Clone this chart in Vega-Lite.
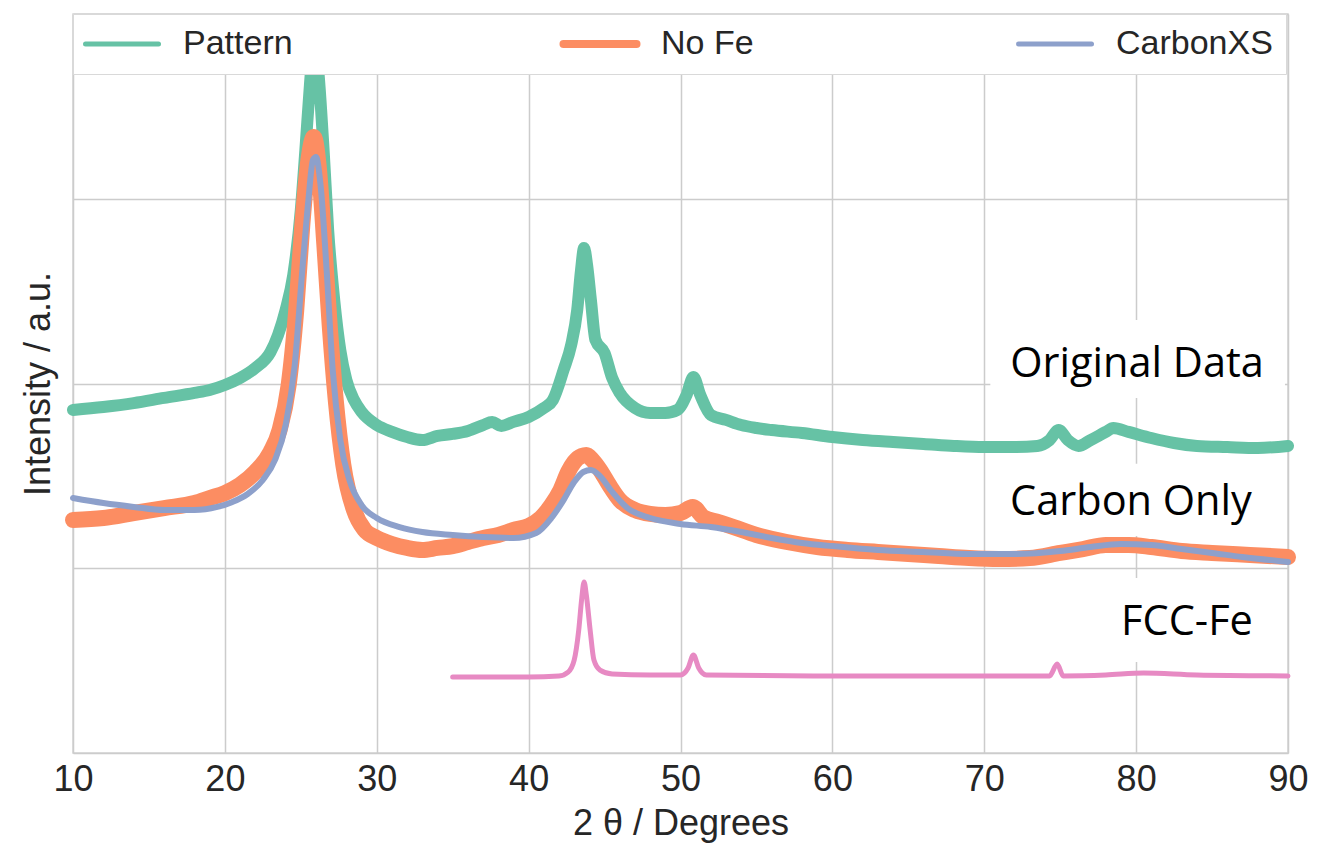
{
  "$schema": "https://vega.github.io/schema/vega-lite/v6.json",
  "width": 1215,
  "height": 739,
  "autosize": "none",
  "padding": {"left": 73, "top": 14, "right": 29, "bottom": 91},
  "background": "white",
  "config": {
    "font": "Liberation Sans",
    "view": {"stroke": "#d4d4d4", "strokeWidth": 1.5},
    "axis": {"gridColor": "#cccccc", "gridWidth": 1.5, "domain": false, "ticks": false, "labelColor": "#262626", "titleColor": "#262626", "titleFontWeight": "normal", "labelFontSize": 36, "titleFontSize": 36}
  },
  "datasets": {
    "curves": [
      {"s":"Pattern","x":10,"y":1.857},{"s":"Pattern","x":12,"y":1.873},{"s":"Pattern","x":14,"y":1.894},{"s":"Pattern","x":16,"y":1.922},{"s":"Pattern","x":18,"y":1.949},{"s":"Pattern","x":19,"y":1.965},{"s":"Pattern","x":20,"y":1.992},{"s":"Pattern","x":21,"y":2.030},{"s":"Pattern","x":22,"y":2.084},{"s":"Pattern","x":23,"y":2.170},{"s":"Pattern","x":23.5,"y":2.263},{"s":"Pattern","x":24,"y":2.398},{"s":"Pattern","x":24.5,"y":2.587},{"s":"Pattern","x":25,"y":2.939},{"s":"Pattern","x":25.3,"y":3.264},{"s":"Pattern","x":25.6,"y":3.616},{"s":"Pattern","x":25.9,"y":3.886},{"s":"Pattern","x":26.2,"y":3.643},{"s":"Pattern","x":26.5,"y":3.264},{"s":"Pattern","x":26.8,"y":2.831},{"s":"Pattern","x":27.2,"y":2.452},{"s":"Pattern","x":27.6,"y":2.181},{"s":"Pattern","x":28,"y":2.019},{"s":"Pattern","x":28.5,"y":1.911},{"s":"Pattern","x":29,"y":1.846},{"s":"Pattern","x":30,"y":1.775},{"s":"Pattern","x":31,"y":1.738},{"s":"Pattern","x":32,"y":1.710},{"s":"Pattern","x":33,"y":1.694},{"s":"Pattern","x":34,"y":1.716},{"s":"Pattern","x":35,"y":1.727},{"s":"Pattern","x":36,"y":1.743},{"s":"Pattern","x":37,"y":1.775},{"s":"Pattern","x":37.6,"y":1.792},{"s":"Pattern","x":38.2,"y":1.770},{"s":"Pattern","x":39,"y":1.792},{"s":"Pattern","x":40,"y":1.819},{"s":"Pattern","x":41,"y":1.867},{"s":"Pattern","x":41.6,"y":1.911},{"s":"Pattern","x":42.3,"y":2.073},{"s":"Pattern","x":42.8,"y":2.208},{"s":"Pattern","x":43.2,"y":2.398},{"s":"Pattern","x":43.45,"y":2.614},{"s":"Pattern","x":43.65,"y":2.733},{"s":"Pattern","x":43.85,"y":2.641},{"s":"Pattern","x":44.1,"y":2.452},{"s":"Pattern","x":44.4,"y":2.235},{"s":"Pattern","x":45,"y":2.165},{"s":"Pattern","x":45.5,"y":2.030},{"s":"Pattern","x":46,"y":1.949},{"s":"Pattern","x":47,"y":1.867},{"s":"Pattern","x":48,"y":1.840},{"s":"Pattern","x":49,"y":1.840},{"s":"Pattern","x":49.8,"y":1.857},{"s":"Pattern","x":50.4,"y":1.938},{"s":"Pattern","x":50.85,"y":2.035},{"s":"Pattern","x":51.3,"y":1.938},{"s":"Pattern","x":52,"y":1.830},{"s":"Pattern","x":53,"y":1.803},{"s":"Pattern","x":54,"y":1.775},{"s":"Pattern","x":55,"y":1.759},{"s":"Pattern","x":56,"y":1.748},{"s":"Pattern","x":58,"y":1.732},{"s":"Pattern","x":60,"y":1.710},{"s":"Pattern","x":62,"y":1.694},{"s":"Pattern","x":64,"y":1.683},{"s":"Pattern","x":66,"y":1.673},{"s":"Pattern","x":68,"y":1.662},{"s":"Pattern","x":70,"y":1.656},{"s":"Pattern","x":72,"y":1.656},{"s":"Pattern","x":73.5,"y":1.662},{"s":"Pattern","x":74.3,"y":1.694},{"s":"Pattern","x":74.9,"y":1.748},{"s":"Pattern","x":75.5,"y":1.694},{"s":"Pattern","x":76.2,"y":1.662},{"s":"Pattern","x":77,"y":1.694},{"s":"Pattern","x":78,"y":1.738},{"s":"Pattern","x":78.5,"y":1.759},{"s":"Pattern","x":79.5,"y":1.738},{"s":"Pattern","x":81,"y":1.705},{"s":"Pattern","x":82.5,"y":1.678},{"s":"Pattern","x":84,"y":1.662},{"s":"Pattern","x":86,"y":1.656},{"s":"Pattern","x":88,"y":1.651},{"s":"Pattern","x":90,"y":1.662},

      {"s":"No Fe","x":10,"y":1.261},{"s":"No Fe","x":12,"y":1.272},{"s":"No Fe","x":14,"y":1.299},{"s":"No Fe","x":16,"y":1.326},{"s":"No Fe","x":18,"y":1.353},{"s":"No Fe","x":19,"y":1.380},{"s":"No Fe","x":20,"y":1.407},{"s":"No Fe","x":21,"y":1.451},{"s":"No Fe","x":22,"y":1.521},{"s":"No Fe","x":23,"y":1.629},{"s":"No Fe","x":23.6,"y":1.748},{"s":"No Fe","x":24.2,"y":1.992},{"s":"No Fe","x":24.7,"y":2.398},{"s":"No Fe","x":25.1,"y":2.858},{"s":"No Fe","x":25.5,"y":3.210},{"s":"No Fe","x":25.85,"y":3.334},{"s":"No Fe","x":26.2,"y":3.156},{"s":"No Fe","x":26.55,"y":2.750},{"s":"No Fe","x":26.9,"y":2.317},{"s":"No Fe","x":27.3,"y":1.911},{"s":"No Fe","x":27.8,"y":1.559},{"s":"No Fe","x":28.5,"y":1.315},{"s":"No Fe","x":29.2,"y":1.207},{"s":"No Fe","x":30,"y":1.164},{"s":"No Fe","x":31,"y":1.131},{"s":"No Fe","x":32,"y":1.110},{"s":"No Fe","x":33,"y":1.099},{"s":"No Fe","x":34,"y":1.110},{"s":"No Fe","x":35,"y":1.120},{"s":"No Fe","x":36,"y":1.142},{"s":"No Fe","x":37,"y":1.164},{"s":"No Fe","x":38,"y":1.180},{"s":"No Fe","x":39,"y":1.207},{"s":"No Fe","x":40,"y":1.229},{"s":"No Fe","x":40.8,"y":1.272},{"s":"No Fe","x":41.5,"y":1.342},{"s":"No Fe","x":42.1,"y":1.424},{"s":"No Fe","x":42.6,"y":1.521},{"s":"No Fe","x":43,"y":1.575},{"s":"No Fe","x":43.5,"y":1.608},{"s":"No Fe","x":43.8,"y":1.613},{"s":"No Fe","x":44.2,"y":1.586},{"s":"No Fe","x":44.7,"y":1.532},{"s":"No Fe","x":45.3,"y":1.451},{"s":"No Fe","x":46,"y":1.369},{"s":"No Fe","x":47,"y":1.315},{"s":"No Fe","x":48,"y":1.294},{"s":"No Fe","x":49,"y":1.288},{"s":"No Fe","x":50,"y":1.299},{"s":"No Fe","x":50.8,"y":1.332},{"s":"No Fe","x":51.5,"y":1.277},{"s":"No Fe","x":52.5,"y":1.250},{"s":"No Fe","x":53.5,"y":1.223},{"s":"No Fe","x":55,"y":1.180},{"s":"No Fe","x":57,"y":1.142},{"s":"No Fe","x":59,"y":1.115},{"s":"No Fe","x":61,"y":1.099},{"s":"No Fe","x":63,"y":1.088},{"s":"No Fe","x":65,"y":1.077},{"s":"No Fe","x":67,"y":1.066},{"s":"No Fe","x":69,"y":1.055},{"s":"No Fe","x":71,"y":1.050},{"s":"No Fe","x":73,"y":1.055},{"s":"No Fe","x":75,"y":1.083},{"s":"No Fe","x":76.5,"y":1.104},{"s":"No Fe","x":78,"y":1.126},{"s":"No Fe","x":79.5,"y":1.126},{"s":"No Fe","x":81,"y":1.115},{"s":"No Fe","x":83,"y":1.093},{"s":"No Fe","x":85,"y":1.083},{"s":"No Fe","x":87.5,"y":1.072},{"s":"No Fe","x":90,"y":1.061},

      {"s":"CarbonXS","x":10,"y":1.380},{"s":"CarbonXS","x":12,"y":1.353},{"s":"CarbonXS","x":14,"y":1.332},{"s":"CarbonXS","x":16,"y":1.315},{"s":"CarbonXS","x":18,"y":1.315},{"s":"CarbonXS","x":19.5,"y":1.332},{"s":"CarbonXS","x":20.5,"y":1.359},{"s":"CarbonXS","x":21.5,"y":1.402},{"s":"CarbonXS","x":22.5,"y":1.478},{"s":"CarbonXS","x":23.3,"y":1.586},{"s":"CarbonXS","x":24,"y":1.775},{"s":"CarbonXS","x":24.6,"y":2.100},{"s":"CarbonXS","x":25.1,"y":2.614},{"s":"CarbonXS","x":25.5,"y":2.993},{"s":"CarbonXS","x":25.8,"y":3.210},{"s":"CarbonXS","x":26,"y":3.226},{"s":"CarbonXS","x":26.3,"y":3.074},{"s":"CarbonXS","x":26.7,"y":2.614},{"s":"CarbonXS","x":27.1,"y":2.073},{"s":"CarbonXS","x":27.6,"y":1.694},{"s":"CarbonXS","x":28.2,"y":1.478},{"s":"CarbonXS","x":29,"y":1.342},{"s":"CarbonXS","x":30,"y":1.272},{"s":"CarbonXS","x":31.5,"y":1.223},{"s":"CarbonXS","x":33,"y":1.196},{"s":"CarbonXS","x":35,"y":1.180},{"s":"CarbonXS","x":37,"y":1.169},{"s":"CarbonXS","x":39,"y":1.164},{"s":"CarbonXS","x":40.5,"y":1.191},{"s":"CarbonXS","x":41.5,"y":1.272},{"s":"CarbonXS","x":42.3,"y":1.369},{"s":"CarbonXS","x":43,"y":1.467},{"s":"CarbonXS","x":43.6,"y":1.521},{"s":"CarbonXS","x":44.1,"y":1.532},{"s":"CarbonXS","x":44.7,"y":1.499},{"s":"CarbonXS","x":45.5,"y":1.413},{"s":"CarbonXS","x":46.5,"y":1.326},{"s":"CarbonXS","x":48,"y":1.272},{"s":"CarbonXS","x":50,"y":1.240},{"s":"CarbonXS","x":52,"y":1.223},{"s":"CarbonXS","x":54,"y":1.196},{"s":"CarbonXS","x":56,"y":1.164},{"s":"CarbonXS","x":58,"y":1.137},{"s":"CarbonXS","x":60,"y":1.120},{"s":"CarbonXS","x":63,"y":1.099},{"s":"CarbonXS","x":66,"y":1.088},{"s":"CarbonXS","x":69,"y":1.077},{"s":"CarbonXS","x":72,"y":1.077},{"s":"CarbonXS","x":75,"y":1.093},{"s":"CarbonXS","x":77,"y":1.115},{"s":"CarbonXS","x":79,"y":1.131},{"s":"CarbonXS","x":81,"y":1.126},{"s":"CarbonXS","x":83,"y":1.104},{"s":"CarbonXS","x":85,"y":1.083},{"s":"CarbonXS","x":87,"y":1.061},{"s":"CarbonXS","x":90,"y":1.034},

      {"s":"FCC-Fe","x":35,"y":0.411},{"s":"FCC-Fe","x":40,"y":0.411},{"s":"FCC-Fe","x":42,"y":0.417},{"s":"FCC-Fe","x":42.6,"y":0.438},{"s":"FCC-Fe","x":43,"y":0.503},{"s":"FCC-Fe","x":43.3,"y":0.666},{"s":"FCC-Fe","x":43.5,"y":0.839},{"s":"FCC-Fe","x":43.65,"y":0.926},{"s":"FCC-Fe","x":43.8,"y":0.855},{"s":"FCC-Fe","x":44.05,"y":0.666},{"s":"FCC-Fe","x":44.3,"y":0.503},{"s":"FCC-Fe","x":44.7,"y":0.449},{"s":"FCC-Fe","x":45.5,"y":0.428},{"s":"FCC-Fe","x":48,"y":0.422},{"s":"FCC-Fe","x":50,"y":0.422},{"s":"FCC-Fe","x":50.5,"y":0.460},{"s":"FCC-Fe","x":50.85,"y":0.530},{"s":"FCC-Fe","x":51.2,"y":0.460},{"s":"FCC-Fe","x":51.7,"y":0.422},{"s":"FCC-Fe","x":60,"y":0.417},{"s":"FCC-Fe","x":74.3,"y":0.417},{"s":"FCC-Fe","x":74.8,"y":0.482},{"s":"FCC-Fe","x":75.2,"y":0.417},{"s":"FCC-Fe","x":78,"y":0.422},{"s":"FCC-Fe","x":80.5,"y":0.433},{"s":"FCC-Fe","x":84,"y":0.422},{"s":"FCC-Fe","x":90,"y":0.417}
    ],
    "boxes": [
      {"x":70.4,"x2":89.8,"y":1.922,"y2":2.344},
      {"x":70.5,"x2":88.8,"y":1.175,"y2":1.565},
      {"x":77.6,"x2":88.9,"y":0.493,"y2":0.947}
    ],
    "labels": [
      {"t":"Original Data","x":80.06,"y":2.035},
      {"t":"Carbon Only","x":79.66,"y":1.288},
      {"t":"FCC-Fe","x":83.35,"y":0.639}
    ]
  },
  "encoding": {
    "x": {"field": "x", "type": "quantitative", "scale": {"domain": [10, 90], "nice": false},
      "axis": {"values": [10,20,30,40,50,60,70,80,90], "title": "2 θ / Degrees", "labelFlush": false, "labelOverlap": false, "labelPadding": 9, "titlePadding": 9}},
    "y": {"field": "y", "type": "quantitative", "scale": {"domain": [0, 4], "nice": false},
      "axis": {"values": [0,1,2,3,4], "labels": false, "title": "Intensity / a.u.", "titlePadding": 16}}
  },
  "layer": [
    {
      "data": {"name": "boxes"},
      "mark": {"type": "rect", "fill": "white", "stroke": null},
      "encoding": {"x2": {"field": "x2"}, "y2": {"field": "y2"}}
    },
    {
      "data": {"name": "curves"},
      "transform": [{"filter": "datum.s === 'Pattern'"}],
      "mark": {"type": "line", "strokeWidth": 12, "strokeCap": "round", "strokeJoin": "round", "interpolate": "monotone"},
      "encoding": {
        "color": {"field": "s", "type": "nominal",
          "scale": {"domain": ["Pattern", "No Fe", "CarbonXS"], "range": ["#66c2a5", "#fc8d62", "#8da0cb"]},
          "legend": {"orient": "none", "legendX": 0, "legendY": 0, "direction": "horizontal", "columns": 3, "title": null,
            "symbolType": "stroke", "symbolSize": 5329, "symbolStrokeWidth": 5, "symbolOffset": 19, "labelFontSize": 34, "labelColor": "#262626",
            "labelOffset": 44, "columnPadding": 254, "padding": 13, "fillColor": "white", "strokeColor": "#d9d9d9",
            "encode": {"symbols": {"update": {"strokeWidth": {"signal": "datum.value === 'No Fe' ? 8 : 5"}, "strokeCap": {"value": "round"}}}}}
        }
      }
    },
    {
      "data": {"name": "curves"},
      "transform": [{"filter": "datum.s === 'No Fe'"}],
      "mark": {"type": "line", "strokeWidth": 16, "strokeCap": "round", "strokeJoin": "round", "interpolate": "monotone"},
      "encoding": {"color": {"field": "s", "type": "nominal"}}
    },
    {
      "data": {"name": "curves"},
      "transform": [{"filter": "datum.s === 'CarbonXS'"}],
      "mark": {"type": "line", "strokeWidth": 6, "strokeCap": "round", "strokeJoin": "round", "interpolate": "monotone"},
      "encoding": {"color": {"field": "s", "type": "nominal"}}
    },
    {
      "data": {"name": "curves"},
      "transform": [{"filter": "datum.s === 'FCC-Fe'"}],
      "mark": {"type": "line", "strokeWidth": 5, "color": "#e78ac3", "strokeCap": "round", "strokeJoin": "round", "interpolate": "monotone"},
      "encoding": {}
    },
    {
      "data": {"name": "labels"},
      "mark": {"type": "text", "font": "Open Sans", "fontSize": 41.5, "color": "black", "align": "center", "baseline": "alphabetic"},
      "encoding": {"text": {"field": "t"}}
    }
  ]
}
